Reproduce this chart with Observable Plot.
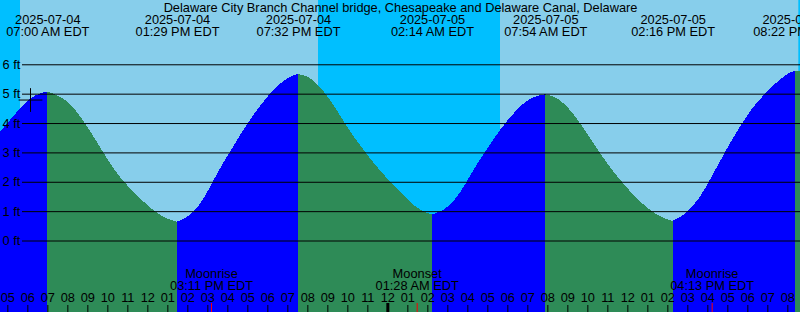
<!DOCTYPE html>
<html><head><meta charset="utf-8">
<script src="https://cdn.jsdelivr.net/npm/d3@7"></script>
<script src="https://cdn.jsdelivr.net/npm/@observablehq/plot@0.6"></script>
<style>html,body{margin:0;padding:0;background:#87CEEB;overflow:hidden}</style>
</head><body><div id="chart"></div>
<script>
const title = "Delaware City Branch Channel bridge, Chesapeake and Delaware Canal, Delaware";
const viewStart = "2025-07-04 04:38";
const viewEnd = "2025-07-05 20:38";

// tide level samples (feet)
const tideTimes = [
  "2025-07-04 04:38","2025-07-04 05:38","2025-07-04 06:08","2025-07-04 06:38","2025-07-04 07:00",
  "2025-07-04 07:58","2025-07-04 08:48","2025-07-04 09:38","2025-07-04 10:18","2025-07-04 10:58",
  "2025-07-04 11:23","2025-07-04 11:53","2025-07-04 12:23","2025-07-04 12:53","2025-07-04 13:29",
  "2025-07-04 14:04","2025-07-04 14:34","2025-07-04 15:04","2025-07-04 15:34","2025-07-04 16:08",
  "2025-07-04 16:44","2025-07-04 17:14","2025-07-04 17:44","2025-07-04 18:08","2025-07-04 18:38",
  "2025-07-04 19:08","2025-07-04 19:32","2025-07-04 20:08","2025-07-04 20:48","2025-07-04 21:29",
  "2025-07-04 22:08","2025-07-04 22:49","2025-07-04 23:28","2025-07-05 00:08","2025-07-05 00:53",
  "2025-07-05 01:23","2025-07-05 01:53","2025-07-05 02:14","2025-07-05 02:53","2025-07-05 03:23",
  "2025-07-05 03:53","2025-07-05 04:23","2025-07-05 04:53","2025-07-05 05:23","2025-07-05 05:53",
  "2025-07-05 06:23","2025-07-05 06:53","2025-07-05 07:23","2025-07-05 07:54","2025-07-05 08:38",
  "2025-07-05 09:18","2025-07-05 09:59","2025-07-05 10:38","2025-07-05 11:18","2025-07-05 11:59",
  "2025-07-05 12:38","2025-07-05 13:18","2025-07-05 13:58","2025-07-05 14:16","2025-07-05 14:53",
  "2025-07-05 15:34","2025-07-05 16:13","2025-07-05 16:53","2025-07-05 17:34","2025-07-05 18:13",
  "2025-07-05 18:53","2025-07-05 19:34","2025-07-05 20:04","2025-07-05 20:22","2025-07-05 20:38"
];
const tideHeights = [
  3.70,4.51,4.85,5.02,5.07,
  4.84,4.10,3.19,2.42,1.89,
  1.61,1.27,0.98,0.76,0.64,
  0.81,1.15,1.72,2.40,3.02,
  3.70,4.22,4.67,5.01,5.35,
  5.60,5.67,5.58,5.12,4.44,
  3.70,3.08,2.51,2.00,1.49,
  1.15,0.95,0.89,1.04,1.38,
  1.89,2.51,3.02,3.53,3.99,
  4.39,4.73,4.92,4.98,4.84,
  4.33,3.65,2.97,2.34,1.78,
  1.32,0.93,0.72,0.67,0.87,
  1.38,2.17,3.02,3.82,4.50,
  5.01,5.46,5.71,5.78,5.76
];

// high / low tide events
const extremeTimes = ["2025-07-04 07:00","2025-07-04 13:29","2025-07-04 19:32","2025-07-05 02:14","2025-07-05 07:54","2025-07-05 14:16","2025-07-05 20:22"];
const extremeDateLabels = ["2025-07-04","2025-07-04","2025-07-04","2025-07-05","2025-07-05","2025-07-05","2025-07-05"];
const extremeTimeLabels = ["07:00 AM EDT","01:29 PM EDT","07:32 PM EDT","02:14 AM EDT","07:54 AM EDT","02:16 PM EDT","08:22 PM EDT"];

// night (sun below horizon)
const nightStarts = ["2025-07-04 04:38","2025-07-04 20:32","2025-07-05 20:33"];
const nightEnds   = ["2025-07-04 05:38","2025-07-05 05:38","2025-07-05 20:38"];

// moon events
const moonEventNames = ["Moonrise","Moonset","Moonrise"];
const moonEventTimes = ["2025-07-04 15:11","2025-07-05 01:28","2025-07-05 16:13"];
const moonEventLabels = ["03:11 PM EDT","01:28 AM EDT","04:13 PM EDT"];

const gridFeet = [0,1,2,3,4,5,6];
const gridLabels = ["0 ft","1 ft","2 ft","3 ft","4 ft","5 ft","6 ft"];

const markerTime = "2025-07-04 06:08";
const markerHeight = 4.80;

const risingColor = "#0000FF", fallingColor = "#2E8B57";

// ---- build ----
const parse = d3.utcParse("%Y-%m-%d %H:%M");
const pts = tideTimes.map((s, i) => ({t: parse(s), h: tideHeights[i]}));
const exSet = new Set(extremeTimes);
const cuts = [0];
tideTimes.forEach((s, i) => { if (exSet.has(s) && i !== 0 && i !== pts.length - 1) cuts.push(i); });
cuts.push(pts.length - 1);
const segs = [];
for (let k = 0; k < cuts.length - 1; k++) {
  const a = cuts[k], b = cuts[k + 1];
  const col = pts[b].h > pts[a].h ? risingColor : fallingColor;
  for (let j = a; j <= b; j++) segs.push({...pts[j], seg: k, col});
}
const extremes = extremeTimes.map((s, i) => ({t: parse(s), date: extremeDateLabels[i], time: extremeTimeLabels[i]}));
const nights = nightStarts.map((s, i) => ({s: parse(s), e: parse(nightEnds[i])}));
const moons = moonEventTimes.map((s, i) => ({t: parse(s), name: moonEventNames[i], label: moonEventLabels[i]}));
const t0 = parse(viewStart), t1 = parse(viewEnd);
const hours = d3.utcHour.range(d3.utcHour.ceil(t0), t1);
const midnights = hours.filter(d => d.getUTCHours() === 0);
const fmtHour = d3.utcFormat("%I");

const yMin = -2.434, yMax = 8.189;

const chart = Plot.plot({
  width: 800, height: 312, margin: 0,
  x: {type: "utc", domain: [t0, t1], axis: null},
  y: {domain: [yMin, yMax], axis: null},
  color: {type: "identity"},
  style: {fontFamily: "'Liberation Sans', Arial, sans-serif", fontSize: "12.8px", background: "#87CEEB", color: "black"},
  marks: [
    Plot.rect(nights, {x1: "s", x2: "e", fill: "#00BFFF"}),
    Plot.areaY(segs, {x: "t", y1: yMin, y2: "h", z: "seg", fill: "col", curve: "basis", shapeRendering: "crispEdges"}),
    Plot.ruleY(gridFeet, {y: d => d, stroke: "black", strokeWidth: 1, insetLeft: 22}),
    Plot.text(gridFeet, {y: d => d, text: (d, i) => gridLabels[i], frameAnchor: "left", textAnchor: "start", dx: 2, lineAnchor: "middle", fill: "black"}),
    Plot.dot([{t: parse(markerTime), h: markerHeight}], {x: "t", y: "h", symbol: "plus", r: 7.7, stroke: "black", strokeWidth: 1}),
    Plot.text([title], {frameAnchor: "top", dy: 7.5, lineAnchor: "middle", fill: "black"}),
    Plot.text(extremes, {x: "t", text: "date", frameAnchor: "top", dy: 19.5, lineAnchor: "middle", fill: "black"}),
    Plot.text(extremes, {x: "t", text: "time", frameAnchor: "top", dy: 31.5, lineAnchor: "middle", fill: "black"}),
    Plot.text(moons, {x: "t", text: "name", frameAnchor: "bottom", dy: -38.5, lineAnchor: "middle", fill: "black"}),
    Plot.text(moons, {x: "t", text: "label", frameAnchor: "bottom", dy: -26.5, lineAnchor: "middle", fill: "black"}),
    Plot.text(hours, {x: d => d, text: d => fmtHour(d), frameAnchor: "bottom", dy: -14.5, lineAnchor: "middle", fill: "black"}),
    Plot.ruleX(hours, {x: d => d, insetTop: 305, stroke: "black", strokeWidth: 1}),
    Plot.ruleX(midnights, {x: d => d, insetTop: 303, stroke: "black", strokeWidth: 3}),
    Plot.ruleX(moons, {x: "t", insetTop: 303, stroke: "#FF0000", strokeWidth: 1})
  ]
});
document.getElementById("chart").appendChild(chart);
</script>
</body></html>
